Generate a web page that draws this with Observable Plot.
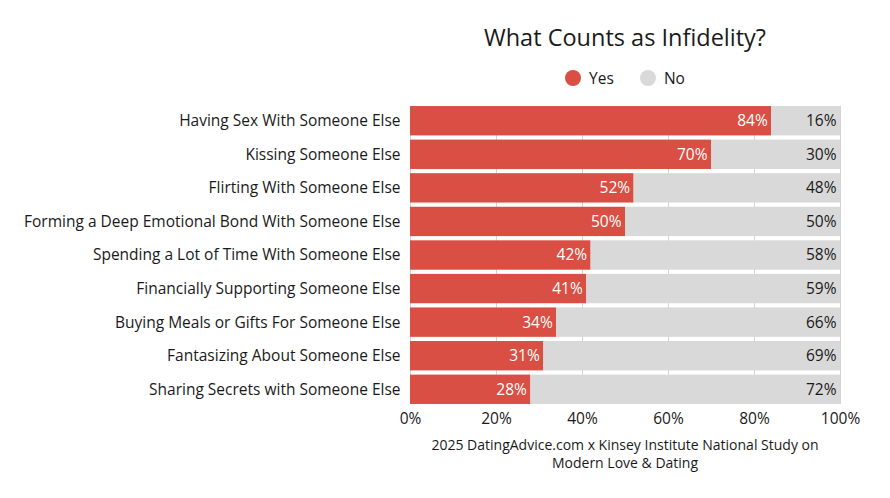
<!DOCTYPE html>
<html>
<head>
<meta charset="utf-8">
<script src="https://cdn.jsdelivr.net/npm/d3@7"></script>
<script src="https://cdn.jsdelivr.net/npm/@observablehq/plot@0.6"></script>
<style>
  body { margin: 0; background: #fff; font-family: "Open Sans", sans-serif; color: #1a1a1a; }
  #wrap { width: 890px; height: 498px; }
  .title { margin-left: 410px; width: 430px; padding-top: 21px; height: 32px; text-align: center; font-size: 23.5px; line-height: 32px; }
  .legend { margin-left: 410px; width: 430px; margin-top: 14px; height: 22px; display: flex; justify-content: center; gap: 26px; font-size: 15.5px; line-height: 22px; }
  .legend span.item { display: flex; align-items: center; gap: 8px; }
  .legend span.sw { width: 16px; height: 16px; border-radius: 50%; display: inline-block; }
  #chart { height: 342px; }
  #chart svg { display: block; }
  .caption { margin-left: 400px; width: 450px; margin-top: 5px; text-align: center; font-size: 14px; line-height: 18px; }
</style>
</head>
<body>
<div id="wrap">
  <div class="title">What Counts as Infidelity?</div>
  <div class="legend" id="legend"></div>
  <div id="chart"></div>
  <div class="caption">2025 DatingAdvice.com x Kinsey Institute National Study on<br>Modern Love &amp; Dating</div>
</div>
<script>
const categories = [
  "Having Sex With Someone Else",
  "Kissing Someone Else",
  "Flirting With Someone Else",
  "Forming a Deep Emotional Bond With Someone Else",
  "Spending a Lot of Time With Someone Else",
  "Financially Supporting Someone Else",
  "Buying Meals or Gifts For Someone Else",
  "Fantasizing About Someone Else",
  "Sharing Secrets with Someone Else"
];
const yesValues = [84, 70, 52, 50, 42, 41, 34, 31, 28];
const noValues = [16, 30, 48, 50, 58, 59, 66, 69, 72];
const answers = ["Yes", "No"];
const colors = ["#D94F43", "#D9D9D9"];
const xTicks = [0, 20, 40, 60, 80, 100];

const long = [];
categories.forEach((c, i) => {
  long.push({cat: c, answer: "Yes", value: yesValues[i]});
  long.push({cat: c, answer: "No", value: noValues[i]});
});

const leg = document.getElementById("legend");
answers.forEach((a, i) => {
  const s = document.createElement("span");
  s.className = "item";
  s.innerHTML = '<span class="sw" style="background:' + colors[i] + '"></span>' + a;
  leg.appendChild(s);
});

const plot = Plot.plot({
  width: 890,
  height: 342,
  marginLeft: 410,
  marginRight: 50,
  marginTop: 17,
  marginBottom: 27,
  style: {fontFamily: "Open Sans, sans-serif", fontSize: "15.5px", color: "#1a1a1a", background: "#fff"},
  x: {domain: [0, 100], label: null},
  y: {domain: categories, paddingInner: 0.125, paddingOuter: 0.001, round: false, label: null},
  color: {domain: answers, range: colors},
  marks: [
    Plot.ruleX(xTicks, {stroke: "#d4d4d4", strokeWidth: 1}),
    Plot.barX(long, Plot.stackX({x: "value", y: "cat", fill: "answer"})),
    Plot.text(long, Plot.stackX2({x: "value", y: "cat", z: "answer",
      text: d => d.value + "%", textAnchor: "end", dx: -4,
      fill: d => d.answer === "Yes" ? "#ffffff" : "#1a1a1a", fontSize: 15.5})),
    Plot.axisX({ticks: xTicks, tickFormat: d => d + "%", tickSize: 0, tickPadding: 8, fontSize: 15.5, label: null}),
    Plot.axisY({tickSize: 0, tickPadding: 10, fontSize: 15.5, label: null})
  ]
});
document.getElementById("chart").appendChild(plot);
</script>
</body>
</html>
